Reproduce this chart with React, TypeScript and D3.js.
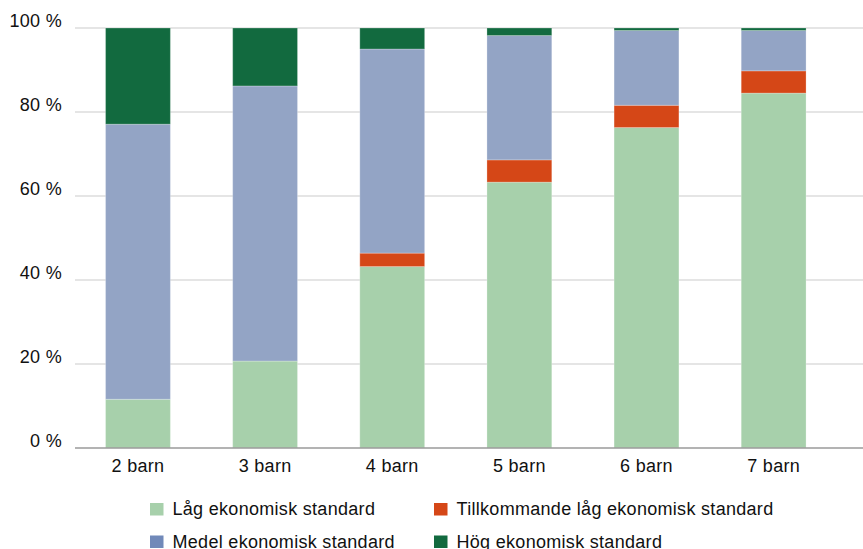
import React from "react";
import * as d3 from "d3";

const categories = ["2 barn", "3 barn", "4 barn", "5 barn", "6 barn", "7 barn"];
const seriesNames = [
  "Låg ekonomisk standard",
  "Tillkommande låg ekonomisk standard",
  "Medel ekonomisk standard",
  "Hög ekonomisk standard",
];
const lagValues = [11.6, 20.7, 43.2, 63.3, 76.3, 84.5];
const tillkommandeValues = [0, 0, 3.2, 5.3, 5.3, 5.3];
const medelValues = [65.5, 65.5, 48.6, 29.6, 17.8, 9.6];
const hogValues = [22.9, 13.8, 5.0, 1.8, 0.6, 0.6];
const yTicks = [0, 20, 40, 60, 80, 100];

const barColors = ["#a7d0ab", "#d54717", "#93a4c5", "#126a3f"];
const legendColors = ["#a7d0ab", "#d54717", "#7189b9", "#126a3f"];

const W = 863;
const H = 549;
const FONT = "'Liberation Sans', Arial, Helvetica, sans-serif";
const FS = 18;
const LS = 0.3;

export default function App() {
  const seriesValues = [lagValues, tillkommandeValues, medelValues, hogValues];
  const rows = categories.map((c, i) => {
    const r: any = { cat: c };
    seriesNames.forEach((s, j) => (r[s] = seriesValues[j][i]));
    return r;
  });
  const stacked = d3.stack<any>().keys(seriesNames)(rows);

  const x = d3
    .scaleBand<string>()
    .domain(categories)
    .range([74.4, 837.2])
    .paddingInner(0.49)
    .paddingOuter(0.245);
  const y = d3.scaleLinear().domain([0, 100]).range([448, 28]);

  const legendItems = [
    { i: 0, x: 150, y: 503 },
    { i: 1, x: 434, y: 503 },
    { i: 2, x: 150, y: 535.5 },
    { i: 3, x: 434, y: 535.5 },
  ];

  return (
    <div style={{ position: "fixed", left: 0, top: 0 }}>
      <svg width={W} height={H} style={{ display: "block", background: "#fff" }}>
        {yTicks.map((t) =>
          t === 0 ? null : (
            <line key={"g" + t} x1={75} x2={863} y1={y(t)} y2={y(t)} stroke="#dcdcdc" strokeWidth={1.3} />
          )
        )}
        {stacked.map((s, j) => (
          <g key={s.key} fill={barColors[j]}>
            {s.map((d, i) =>
              d[1] - d[0] > 0 ? (
                <rect
                  key={i}
                  x={x(categories[i])!}
                  width={x.bandwidth()}
                  y={y(d[1])}
                  height={y(d[0]) - y(d[1])}
                  stroke="rgba(255,255,255,0.25)"
                  strokeWidth={1}
                />
              ) : null
            )}
          </g>
        ))}
        <line x1={75} x2={863} y1={448} y2={448} stroke="#9a9a9a" strokeWidth={1.3} />
        {yTicks.map((t) => (
          <text
            key={"t" + t}
            x={62}
            y={y(t) - 1}
            textAnchor="end"
            fontFamily={FONT}
            fontSize={FS}
            letterSpacing={LS}
            fill="#111"
          >
            {t} %
          </text>
        ))}
        {categories.map((c) => (
          <text
            key={c}
            x={x(c)! + x.bandwidth() / 2}
            y={472}
            textAnchor="middle"
            fontFamily={FONT}
            fontSize={FS}
            letterSpacing={LS}
            fill="#111"
          >
            {c}
          </text>
        ))}
        {legendItems.map((l) => (
          <g key={l.i}>
            <rect x={l.x} y={l.y} width={13.5} height={12.5} fill={legendColors[l.i]} />
            <text x={l.x + 22.5} y={l.y + 12} fontFamily={FONT} fontSize={FS} letterSpacing={LS} fill="#111">
              {seriesNames[l.i]}
            </text>
          </g>
        ))}
      </svg>
    </div>
  );
}
